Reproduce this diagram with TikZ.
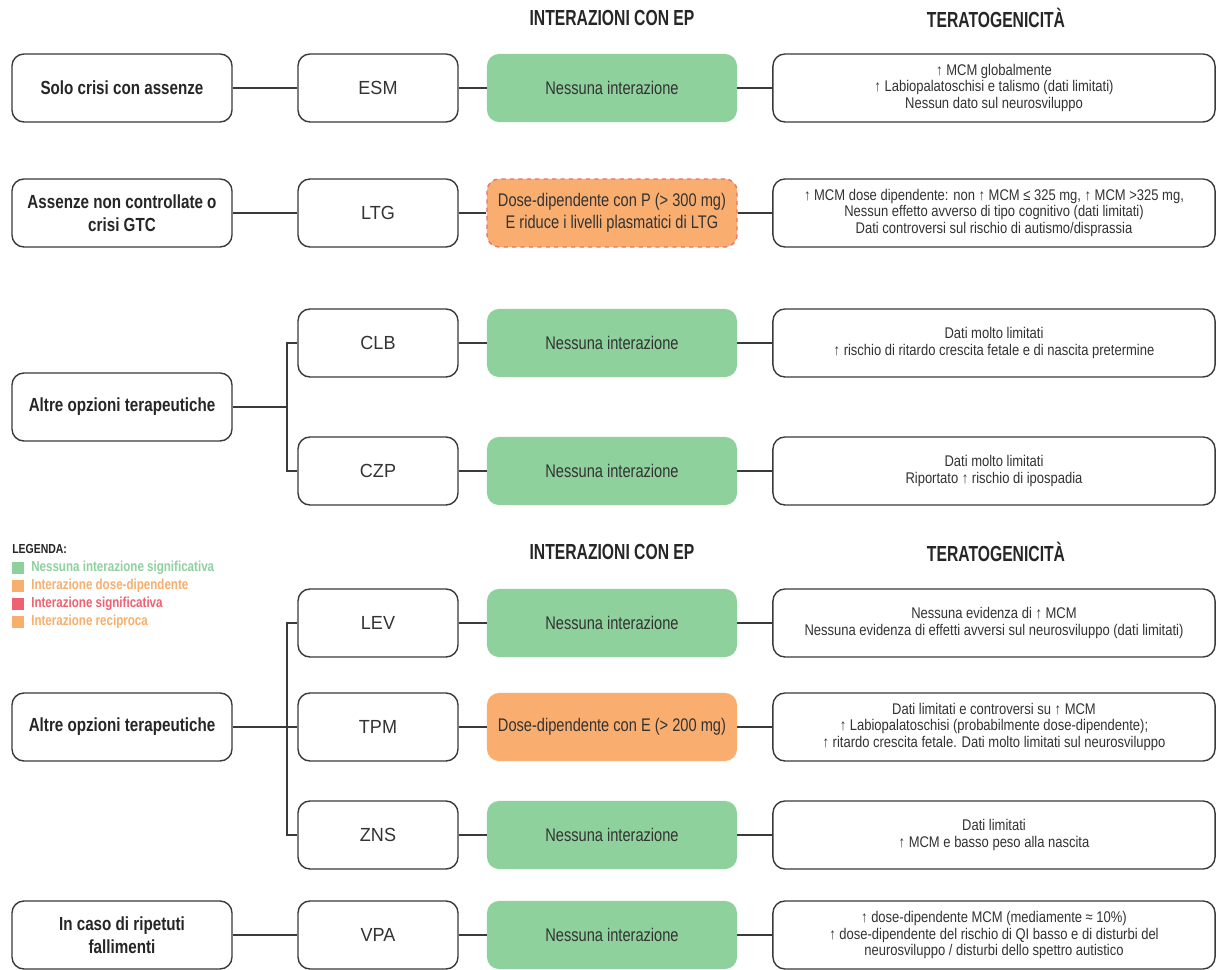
\documentclass[tikz,border=0pt]{standalone}
\usepackage{fontspec}
\setmainfont{Liberation Sans}[FakeStretch=0.8]
\newfontfamily\hdrfont{Liberation Sans}[FakeStretch=0.72]
\newfontfamily\terafont{Liberation Sans}[FakeStretch=0.84]
\newfontfamily\drugfont{Liberation Sans}[FakeStretch=0.95]
\usetikzlibrary{positioning}
\definecolor{boxgreen}{HTML}{8FD19D}
\definecolor{boxorange}{HTML}{F9AE70}
\definecolor{dashred}{HTML}{E8736A}
\definecolor{legred}{HTML}{EF6070}
\definecolor{legorange}{HTML}{F8AE6C}
\definecolor{txtgray}{HTML}{333333}
\definecolor{edgegray}{HTML}{3A3A3A}
\tikzset{
  base/.style={rounded corners=0.3cm, minimum height=1.7cm, align=center, inner sep=2pt, text=txtgray},
  condbox/.style={base, draw=edgegray, line width=1pt, fill=white, minimum width=5.5cm, font=\fontsize{13.5}{16}\selectfont\bfseries, text=black!85},
  drugbox/.style={base, draw=edgegray, line width=1pt, fill=white, minimum width=4cm, font=\drugfont\fontsize{13.5}{16}\selectfont},
  intgreen/.style={base, fill=boxgreen, minimum width=6.25cm, font=\fontsize{13}{15.5}\selectfont},
  intorange/.style={base, fill=boxorange, minimum width=6.25cm, font=\fontsize{13}{15.5}\selectfont},
  teratobox/.style={base, draw=edgegray, line width=1pt, fill=white, minimum width=11.05cm, font=\terafont\fontsize{11}{11.8}\selectfont},
  hdr/.style={font=\hdrfont\fontsize{15.5}{17}\selectfont\bfseries, text=black!85},
  conn/.style={draw=edgegray, line width=1.1pt},
  legsq/.style={minimum size=0.3cm, inner sep=0pt},
  legtxt/.style={anchor=west, font=\fontsize{10.3}{12}\selectfont\bfseries, inner sep=0pt}
}
\begin{document}
\begin{tikzpicture}[x=0.025cm, y=-0.025cm]
\useasboundingbox[fill=white] (0,0) rectangle (1219,970);

% headers
\node[hdr] (h1) at (612,18) {INTERAZIONI CON EP};
\node[hdr] (h2) at (996,18) {TERATOGENICITÀ};
\node[hdr] (h3) at (612,552) {INTERAZIONI CON EP};
\node[hdr] (h4) at (996,552) {TERATOGENICITÀ};

% row 1 ESM
\node[condbox] (c1) at (122,88) {Solo crisi con assenze};
\node[drugbox] (d1) at (378,88) {ESM};
\node[intgreen] (i1) at (612,88) {Nessuna interazione};
\node[teratobox] (t1) at (994,88) {↑ MCM globalmente\\↑ Labiopalatoschisi e talismo (dati limitati)\\Nessun dato sul neurosviluppo};

% row 2 LTG
\node[condbox] (c2) at (122,213) {Assenze non controllate o\\crisi GTC};
\node[drugbox] (d2) at (378,213) {LTG};
\node[intorange, draw=dashred, dashed, line width=1pt, font=\fontsize{13}{16}\selectfont] (i2) at (612,213) {Dose-dipendente con P (> 300 mg)\\E riduce i livelli plasmatici di LTG};
\node[teratobox] (t2) at (994,213) {↑ MCM dose dipendente: non ↑ MCM ≤ 325 mg, ↑ MCM >325 mg,\\Nessun effetto avverso di tipo cognitivo (dati limitati)\\Dati controversi sul rischio di autismo/disprassia};

% rows 3-4
\node[condbox] (c3) at (122,407) {Altre opzioni terapeutiche};
\node[drugbox] (d3) at (378,343) {CLB};
\node[intgreen] (i3) at (612,343) {Nessuna interazione};
\node[teratobox] (t3) at (994,343) {Dati molto limitati\\↑ rischio di ritardo crescita fetale e di nascita pretermine};
\node[drugbox] (d4) at (378,471) {CZP};
\node[intgreen] (i4) at (612,471) {Nessuna interazione};
\node[teratobox] (t4) at (994,471) {Dati molto limitati\\Riportato ↑ rischio di ipospadia};

% legend
\node[anchor=west, inner sep=0pt, font=\fontsize{9.3}{10}\selectfont\bfseries, text=black!85] (leg) at (12,549) {LEGENDA:};
\node[legsq, fill=boxgreen] (s1) at (18,568) {};
\node[legtxt, text=boxgreen] (l1) at (31,568) {Nessuna interazione significativa};
\node[legsq, fill=legorange] (s2) at (18,586) {};
\node[legtxt, text=legorange] (l2) at (31,586) {Interazione dose-dipendente};
\node[legsq, fill=legred] (s3) at (18,604) {};
\node[legtxt, text=legred] (l3) at (31,604) {Interazione significativa};
\node[legsq, fill=legorange] (s4) at (18,622) {};
\node[legtxt, text=legorange] (l4) at (31,622) {Interazione reciproca};

% rows 5-7
\node[condbox] (c5) at (122,727) {Altre opzioni terapeutiche};
\node[drugbox] (d5) at (378,623) {LEV};
\node[intgreen] (i5) at (612,623) {Nessuna interazione};
\node[teratobox] (t5) at (994,623) {Nessuna evidenza di ↑ MCM\\Nessuna evidenza di effetti avversi sul neurosviluppo (dati limitati)};
\node[drugbox] (d6) at (378,727) {TPM};
\node[intorange] (i6) at (612,727) {Dose-dipendente con E (> 200 mg)};
\node[teratobox] (t6) at (994,727) {Dati limitati e controversi su ↑ MCM\\↑ Labiopalatoschisi (probabilmente dose-dipendente);\\↑ ritardo crescita fetale. Dati molto limitati sul neurosviluppo};
\node[drugbox] (d7) at (378,835) {ZNS};
\node[intgreen] (i7) at (612,835) {Nessuna interazione};
\node[teratobox] (t7) at (994,835) {Dati limitati\\↑ MCM e basso peso alla nascita};

% row 8
\node[condbox] (c8) at (122,935) {In caso di ripetuti\\fallimenti};
\node[drugbox] (d8) at (378,935) {VPA};
\node[intgreen] (i8) at (612,935) {Nessuna interazione};
\node[teratobox] (t8) at (994,935) {↑ dose-dipendente MCM (mediamente ≈ 10\%)\\↑ dose-dipendente del rischio di QI basso e di disturbi del\\neurosviluppo / disturbi dello spettro autistico};

% branch coordinates
\coordinate (b1) at (287,407);
\coordinate (b2) at (287,727);

% connectors
\foreach \r in {1,2,8}{
  \draw[conn] (c\r.east) -- (d\r.west);
}
\foreach \r in {1,2,3,4,5,6,7,8}{
  \draw[conn] (d\r.east) -- (i\r.west);
  \draw[conn] (i\r.east) -- (t\r.west);
}
\draw[conn] (c3.east) -- (b1);
\draw[conn] (d3.west) -| (b1) |- (d4.west);
\draw[conn] (c5.east) -- (b2);
\draw[conn] (d5.west) -| (b2) |- (d7.west);
\draw[conn] (b2) -- (d6.west);
\end{tikzpicture}
\end{document}
